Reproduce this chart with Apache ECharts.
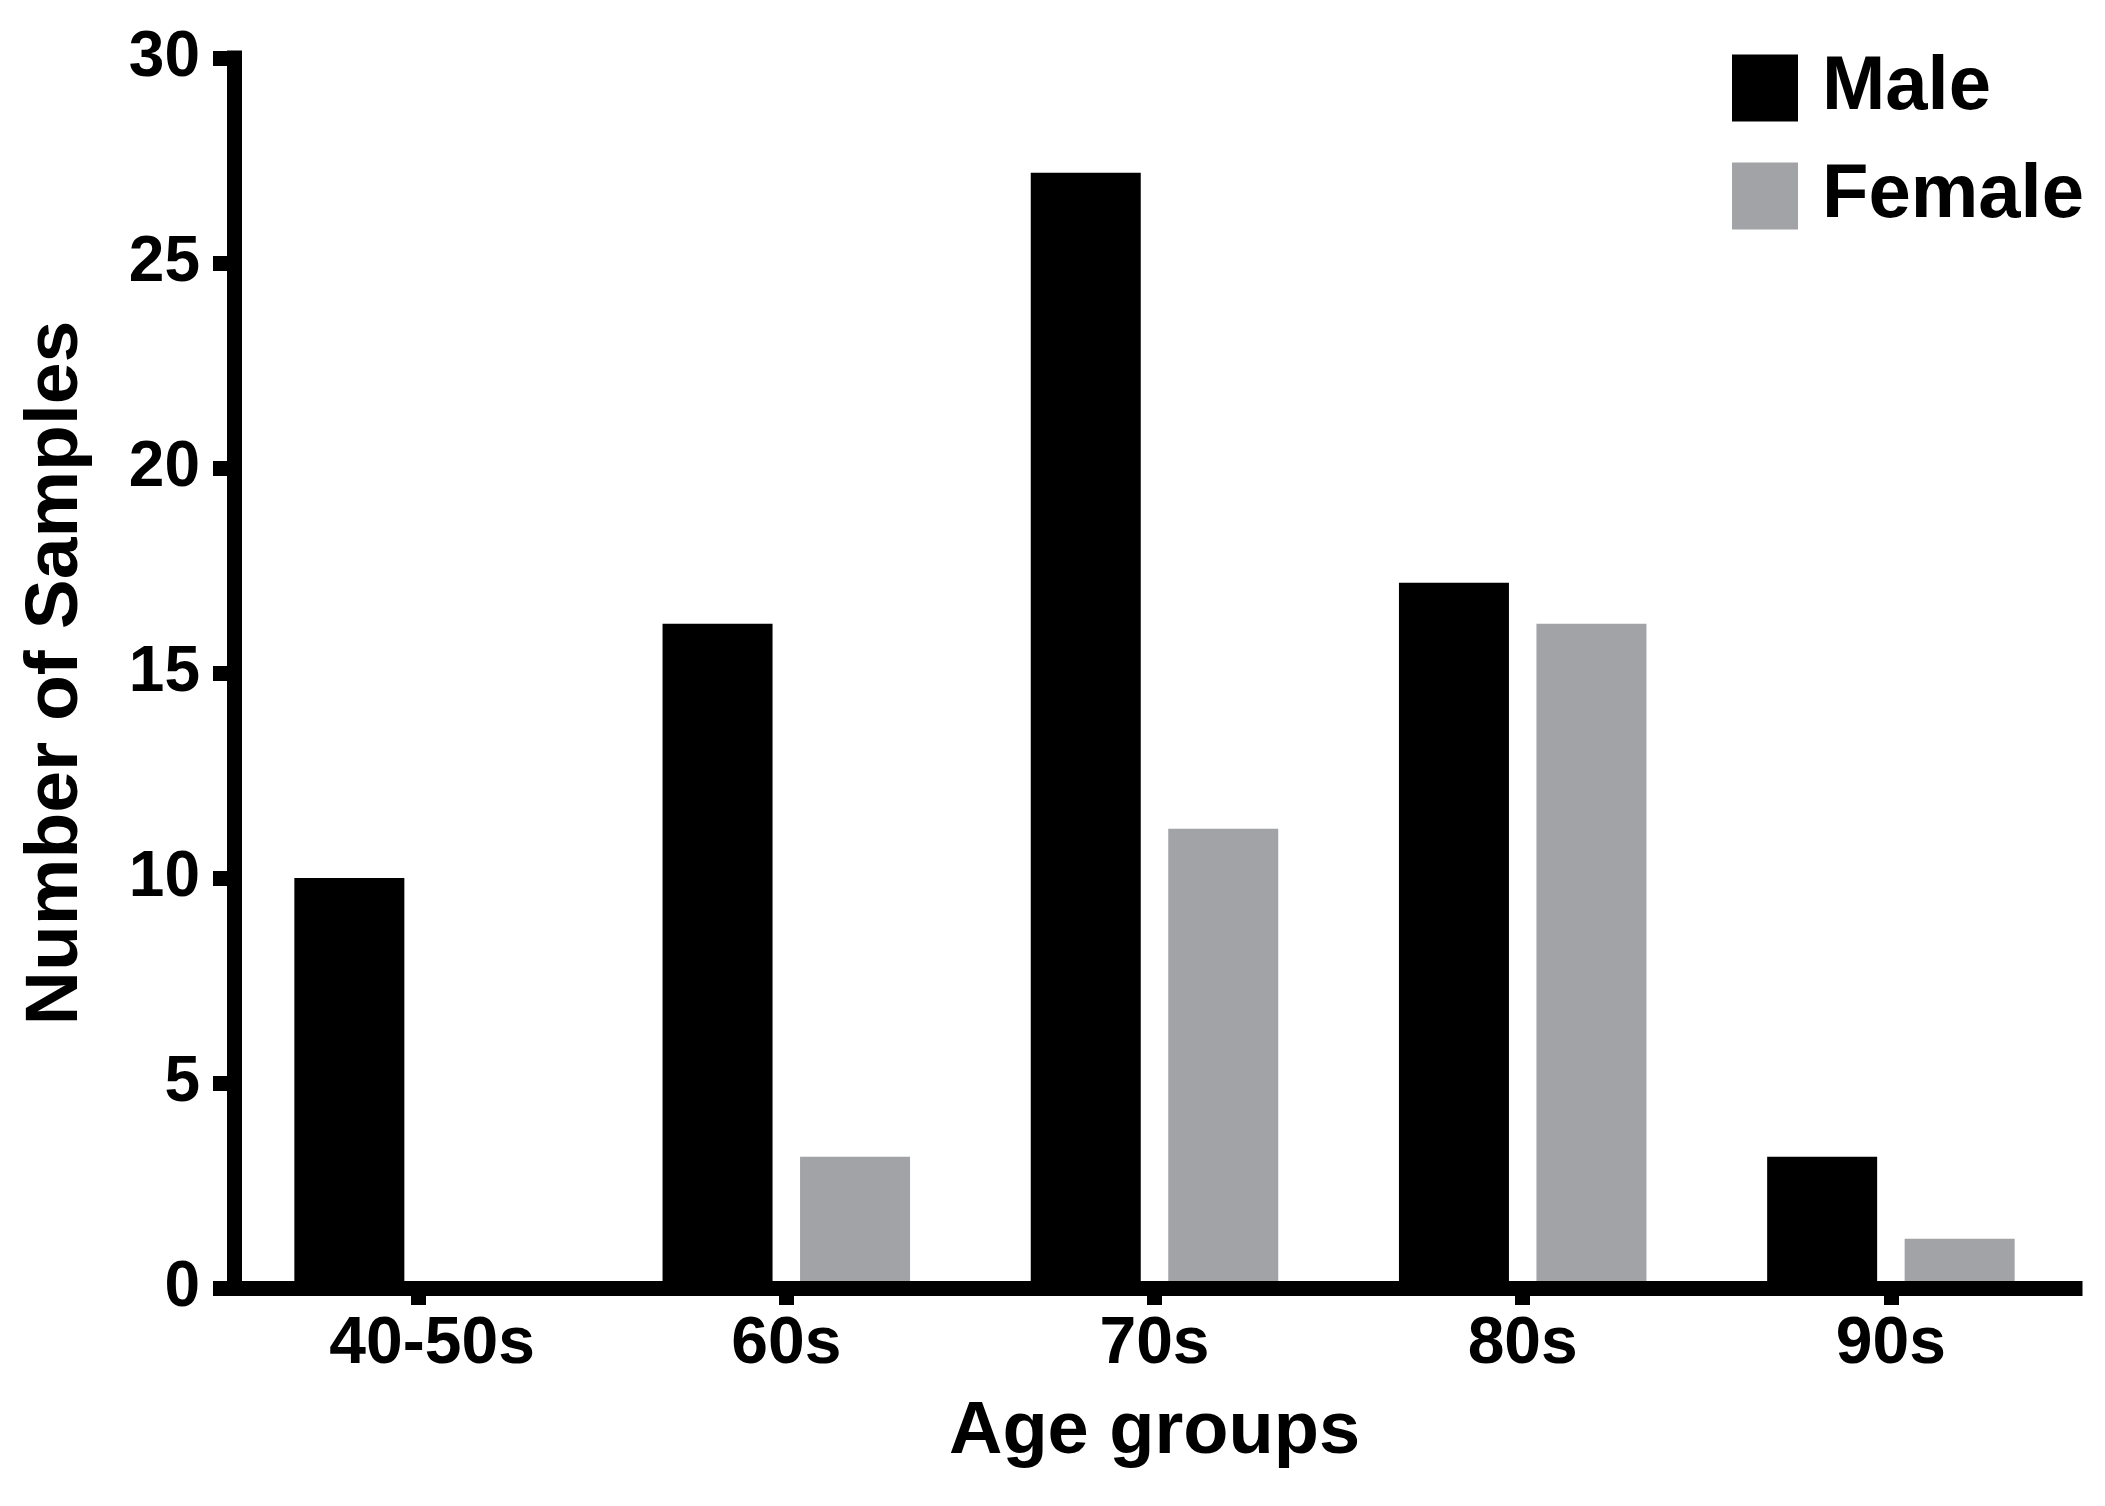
<!DOCTYPE html>
<html>
<head>
<meta charset="utf-8">
<script src="https://cdn.jsdelivr.net/npm/echarts@6/dist/echarts.min.js"></script>
<style>
html,body{margin:0;padding:0;background:#fff;}
#chart{width:2105px;height:1506px;}
</style>
</head>
<body>
<div id="chart"></div>
<script>
const categories = ['40-50s', '60s', '70s', '80s', '90s'];
const maleValues = [10, 16.2, 27.2, 17.2, 3.2];
const femaleValues = [0, 3.2, 11.2, 16.2, 1.2];
const seriesNames = ['Male', 'Female'];
const yTickValues = [0, 5, 10, 15, 20, 25, 30];

const FONT = "'Liberation Sans', Arial, sans-serif";
const chart = echarts.init(document.getElementById('chart'), null, {renderer: 'canvas'});

const categoryData = categories.map(function (c, i) {
  return i === 0 ? {value: c, textStyle: {padding: [0, 0, 0, 28]}} : c;
});

chart.setOption({
  backgroundColor: '#ffffff',
  animation: false,
  textStyle: {fontFamily: FONT, fontWeight: 'bold', color: '#000'},
  grid: {left: 234, right: 2105 - 2075, top: 58, bottom: 1506 - 1288, containLabel: false},
  legend: {
    orient: 'vertical',
    left: 1732,
    top: 50,
    padding: 0,
    itemWidth: 66,
    itemHeight: 67,
    itemGap: 32,
    icon: 'rect',
    data: seriesNames,
    textStyle: {fontFamily: FONT, fontWeight: 'bold', fontSize: 76, lineHeight: 57, color: '#000', padding: [10, 0, 0, 19]}
  },
  xAxis: {
    type: 'category',
    data: categoryData,
    z: 10,
    name: 'Age groups',
    nameLocation: 'middle',
    nameGap: 108,
    nameTextStyle: {fontFamily: FONT, fontWeight: 'bold', fontSize: 74, color: '#000'},
    axisLine: {lineStyle: {color: '#000', width: 15, cap: 'square'}},
    axisTick: {show: true, alignWithLabel: true, length: 17, lineStyle: {color: '#000', width: 15}},
    axisLabel: {fontFamily: FONT, fontWeight: 'bold', fontSize: 66, color: '#000', margin: 24},
    splitLine: {show: false}
  },
  yAxis: {
    type: 'value',
    min: 0,
    max: 30,
    interval: 5,
    z: 10,
    name: 'Number of Samples',
    nameLocation: 'middle',
    nameGap: 140,
    nameRotate: 90,
    nameTextStyle: {fontFamily: FONT, fontWeight: 'bold', fontSize: 75, color: '#000'},
    axisLine: {show: true, lineStyle: {color: '#000', width: 15, cap: 'square'}},
    axisTick: {show: true, length: 21, lineStyle: {color: '#000', width: 15}},
    axisLabel: {
      fontFamily: FONT, fontWeight: 'bold', fontSize: 64, color: '#000', margin: 34,
      formatter: function (v) { return yTickValues.indexOf(v) >= 0 ? String(v) : ''; }
    },
    splitLine: {show: false}
  },
  series: [
    {
      name: seriesNames[0],
      type: 'bar',
      data: maleValues,
      barWidth: 110,
      barGap: '25%',
      z: 2,
      itemStyle: {color: '#000000'}
    },
    {
      name: seriesNames[1],
      type: 'bar',
      data: femaleValues,
      barWidth: 110,
      barGap: '25%',
      z: 2,
      itemStyle: {color: '#a2a3a7'}
    }
  ]
});
</script>
</body>
</html>
